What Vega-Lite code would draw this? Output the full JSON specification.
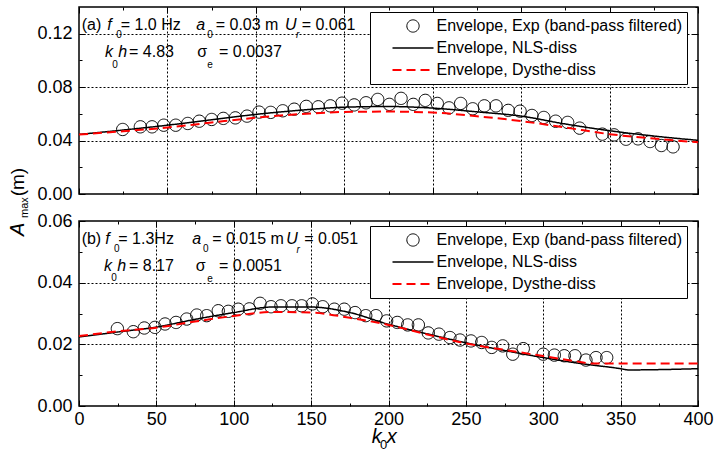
{
  "$schema": "https://vega.github.io/schema/vega-lite/v6.json",
  "padding": {"left": 7, "top": 5, "right": 5, "bottom": 5},
  "bounds": "flush",
  "spacing": 27,
  "config": {
    "view": {"stroke": "black", "strokeWidth": 1.5},
    "axis": {"domain": false, "tickColor": "black", "tickWidth": 1, "labelFont": "Liberation Sans", "labelFontSize": 18, "labelColor": "black", "labelFlush": false, "labelOverlap": false, "gridColor": "black", "gridDash": [2, 2], "gridWidth": 1},
    "text": {"font": "Liberation Sans", "fontSize": 16, "align": "left", "baseline": "alphabetic", "color": "black"},
    "legend": {"orient": "none", "legendX": 291, "legendY": 5, "padding": 5, "strokeColor": "black", "fillColor": "white", "labelFont": "Liberation Sans", "labelFontSize": 16, "labelColor": "black", "labelLimit": 0, "symbolSize": 1681, "symbolOffset": 16.5, "labelOffset": 2, "clipHeight": 18, "rowPadding": 4}
  },
  "datasets": {
    "a_exp": [
      {"series": "Exp", "x": 24.7, "y": 0.0483}, {"series": "Exp", "x": 34.7, "y": 0.0503}, {"series": "Exp", "x": 41.3, "y": 0.0503}, {"series": "Exp", "x": 47.9, "y": 0.0515}, {"series": "Exp", "x": 54.7, "y": 0.0515}, {"series": "Exp", "x": 61.5, "y": 0.0528}, {"series": "Exp", "x": 68.0, "y": 0.0545}, {"series": "Exp", "x": 75.0, "y": 0.0558}, {"series": "Exp", "x": 81.6, "y": 0.0566}, {"series": "Exp", "x": 88.4, "y": 0.0570}, {"series": "Exp", "x": 95.0, "y": 0.0583}, {"series": "Exp", "x": 101.8, "y": 0.0613}, {"series": "Exp", "x": 108.4, "y": 0.0611}, {"series": "Exp", "x": 115.2, "y": 0.0623}, {"series": "Exp", "x": 121.7, "y": 0.0635}, {"series": "Exp", "x": 128.5, "y": 0.0656}, {"series": "Exp", "x": 135.3, "y": 0.0653}, {"series": "Exp", "x": 142.1, "y": 0.0660}, {"series": "Exp", "x": 148.7, "y": 0.0680}, {"series": "Exp", "x": 155.6, "y": 0.0667}, {"series": "Exp", "x": 162.3, "y": 0.0683}, {"series": "Exp", "x": 168.9, "y": 0.0708}, {"series": "Exp", "x": 175.5, "y": 0.0671}, {"series": "Exp", "x": 182.1, "y": 0.0716}, {"series": "Exp", "x": 189.0, "y": 0.0671}, {"series": "Exp", "x": 195.8, "y": 0.0701}, {"series": "Exp", "x": 202.6, "y": 0.0678}, {"series": "Exp", "x": 209.2, "y": 0.0645}, {"series": "Exp", "x": 215.8, "y": 0.0678}, {"series": "Exp", "x": 222.6, "y": 0.0638}, {"series": "Exp", "x": 229.2, "y": 0.0660}, {"series": "Exp", "x": 235.8, "y": 0.0660}, {"series": "Exp", "x": 242.7, "y": 0.0626}, {"series": "Exp", "x": 249.4, "y": 0.0620}, {"series": "Exp", "x": 256.1, "y": 0.0588}, {"series": "Exp", "x": 262.8, "y": 0.0573}, {"series": "Exp", "x": 269.5, "y": 0.0545}, {"series": "Exp", "x": 276.3, "y": 0.0536}, {"series": "Exp", "x": 283.1, "y": 0.0493}, {"series": "Exp", "x": 295.9, "y": 0.0448}, {"series": "Exp", "x": 302.5, "y": 0.0443}, {"series": "Exp", "x": 309.3, "y": 0.0410}, {"series": "Exp", "x": 316.1, "y": 0.0413}, {"series": "Exp", "x": 322.9, "y": 0.0393}, {"series": "Exp", "x": 329.3, "y": 0.0363}, {"series": "Exp", "x": 335.9, "y": 0.0353}
    ],
    "a_lines": [
      {"series": "NLS", "x": 0, "y": 0.0446}, {"series": "NLS", "x": 25, "y": 0.0479}, {"series": "NLS", "x": 50, "y": 0.0515}, {"series": "NLS", "x": 75, "y": 0.0556}, {"series": "NLS", "x": 100, "y": 0.0596}, {"series": "NLS", "x": 125, "y": 0.0627}, {"series": "NLS", "x": 150, "y": 0.0650}, {"series": "NLS", "x": 175, "y": 0.0655}, {"series": "NLS", "x": 200, "y": 0.0643}, {"series": "NLS", "x": 225, "y": 0.0615}, {"series": "NLS", "x": 250, "y": 0.0583}, {"series": "NLS", "x": 275, "y": 0.0524}, {"series": "NLS", "x": 300, "y": 0.0474}, {"series": "NLS", "x": 325, "y": 0.0434}, {"series": "NLS", "x": 350, "y": 0.0402},
      {"series": "Dysthe", "x": 0, "y": 0.0445}, {"series": "Dysthe", "x": 25, "y": 0.0470}, {"series": "Dysthe", "x": 50, "y": 0.0498}, {"series": "Dysthe", "x": 75, "y": 0.0535}, {"series": "Dysthe", "x": 100, "y": 0.0571}, {"series": "Dysthe", "x": 125, "y": 0.0598}, {"series": "Dysthe", "x": 150, "y": 0.0614}, {"series": "Dysthe", "x": 175, "y": 0.0617}, {"series": "Dysthe", "x": 200, "y": 0.0610}, {"series": "Dysthe", "x": 225, "y": 0.0582}, {"series": "Dysthe", "x": 250, "y": 0.0546}, {"series": "Dysthe", "x": 275, "y": 0.0498}, {"series": "Dysthe", "x": 300, "y": 0.0448}, {"series": "Dysthe", "x": 325, "y": 0.0415}, {"series": "Dysthe", "x": 350, "y": 0.0387}
    ],
    "b_exp": [
      {"series": "Exp", "x": 24.8, "y": 0.0251}, {"series": "Exp", "x": 35.1, "y": 0.0241}, {"series": "Exp", "x": 42.2, "y": 0.0253}, {"series": "Exp", "x": 49.1, "y": 0.0255}, {"series": "Exp", "x": 55.6, "y": 0.0266}, {"series": "Exp", "x": 62.7, "y": 0.0271}, {"series": "Exp", "x": 69.6, "y": 0.0282}, {"series": "Exp", "x": 76.1, "y": 0.0295}, {"series": "Exp", "x": 82.5, "y": 0.0293}, {"series": "Exp", "x": 90.0, "y": 0.0309}, {"series": "Exp", "x": 96.5, "y": 0.0307}, {"series": "Exp", "x": 102.9, "y": 0.0314}, {"series": "Exp", "x": 110.1, "y": 0.0315}, {"series": "Exp", "x": 117.0, "y": 0.0333}, {"series": "Exp", "x": 124.1, "y": 0.0322}, {"series": "Exp", "x": 130.5, "y": 0.0325}, {"series": "Exp", "x": 137.6, "y": 0.0325}, {"series": "Exp", "x": 143.9, "y": 0.0325}, {"series": "Exp", "x": 150.8, "y": 0.0331}, {"series": "Exp", "x": 157.5, "y": 0.0322}, {"series": "Exp", "x": 165.0, "y": 0.0314}, {"series": "Exp", "x": 171.4, "y": 0.0314}, {"series": "Exp", "x": 178.4, "y": 0.0303}, {"series": "Exp", "x": 185.3, "y": 0.0293}, {"series": "Exp", "x": 191.9, "y": 0.0293}, {"series": "Exp", "x": 198.8, "y": 0.0276}, {"series": "Exp", "x": 205.7, "y": 0.0271}, {"series": "Exp", "x": 212.4, "y": 0.0263}, {"series": "Exp", "x": 219.3, "y": 0.0263}, {"series": "Exp", "x": 225.7, "y": 0.0237}, {"series": "Exp", "x": 232.6, "y": 0.0233}, {"series": "Exp", "x": 239.7, "y": 0.0222}, {"series": "Exp", "x": 246.2, "y": 0.0214}, {"series": "Exp", "x": 253.3, "y": 0.0211}, {"series": "Exp", "x": 260.2, "y": 0.0206}, {"series": "Exp", "x": 266.7, "y": 0.0190}, {"series": "Exp", "x": 273.8, "y": 0.0195}, {"series": "Exp", "x": 280.3, "y": 0.0168}, {"series": "Exp", "x": 287.1, "y": 0.0186}, {"series": "Exp", "x": 300.0, "y": 0.0168}, {"series": "Exp", "x": 307.2, "y": 0.0165}, {"series": "Exp", "x": 313.6, "y": 0.0163}, {"series": "Exp", "x": 320.5, "y": 0.0163}, {"series": "Exp", "x": 327.6, "y": 0.0149}, {"series": "Exp", "x": 334.1, "y": 0.0157}, {"series": "Exp", "x": 341.0, "y": 0.0157}
    ],
    "b_lines": [
      {"series": "NLS", "x": 0, "y": 0.0224}, {"series": "NLS", "x": 25, "y": 0.0240}, {"series": "NLS", "x": 50, "y": 0.0256}, {"series": "NLS", "x": 75, "y": 0.0281}, {"series": "NLS", "x": 100, "y": 0.0303}, {"series": "NLS", "x": 125, "y": 0.0321}, {"series": "NLS", "x": 150, "y": 0.0321}, {"series": "NLS", "x": 175, "y": 0.0303}, {"series": "NLS", "x": 200, "y": 0.0265}, {"series": "NLS", "x": 225, "y": 0.0234}, {"series": "NLS", "x": 250, "y": 0.0205}, {"series": "NLS", "x": 275, "y": 0.0180}, {"series": "NLS", "x": 300, "y": 0.0157}, {"series": "NLS", "x": 325, "y": 0.0137}, {"series": "NLS", "x": 350, "y": 0.0121}, {"series": "NLS", "x": 355, "y": 0.0117}, {"series": "NLS", "x": 400, "y": 0.0121},
      {"series": "Dysthe", "x": 0, "y": 0.0227}, {"series": "Dysthe", "x": 25, "y": 0.0242}, {"series": "Dysthe", "x": 50, "y": 0.0254}, {"series": "Dysthe", "x": 75, "y": 0.0274}, {"series": "Dysthe", "x": 100, "y": 0.0292}, {"series": "Dysthe", "x": 125, "y": 0.0305}, {"series": "Dysthe", "x": 150, "y": 0.0303}, {"series": "Dysthe", "x": 175, "y": 0.0286}, {"series": "Dysthe", "x": 200, "y": 0.0263}, {"series": "Dysthe", "x": 225, "y": 0.0232}, {"series": "Dysthe", "x": 250, "y": 0.0203}, {"series": "Dysthe", "x": 275, "y": 0.0182}, {"series": "Dysthe", "x": 300, "y": 0.0162}, {"series": "Dysthe", "x": 320, "y": 0.0146}, {"series": "Dysthe", "x": 332, "y": 0.0138}, {"series": "Dysthe", "x": 400, "y": 0.0138}
    ]
  },
  "resolve": {
    "scale": {"x": "independent", "y": "independent", "color": "independent", "shape": "independent", "strokeDash": "independent", "strokeWidth": "independent"},
    "legend": {"color": "independent", "shape": "independent", "strokeDash": "independent", "strokeWidth": "independent"}
  },
  "vconcat": [
    {
      "width": 619,
      "height": 187,
      "resolve": {"axis": {"x": "independent", "y": "independent"}},
      "layer": [
        {
          "data": {"name": "a_exp"},
          "mark": {"type": "point", "filled": false, "size": 1681, "opacity": 1},
          "encoding": {
            "x": {"field": "x", "type": "quantitative", "scale": {"domain": [0, 350], "nice": false, "zero": false},
              "axis": {"orient": "bottom", "title": null, "values": [0, 25, 50, 75, 100, 125, 150, 175, 200, 225, 250, 275, 300, 325, 350], "labels": false, "grid": true,
                "gridOpacity": {"condition": {"test": "datum.value % 50 === 0 && datum.value > 0 && datum.value < 350", "value": 1}, "value": 0},
                "tickSize": {"condition": {"test": "datum.value % 50 === 0", "value": -6}, "value": -3}}},
            "y": {"field": "y", "type": "quantitative", "scale": {"domain": [0, 0.14], "nice": false},
              "axis": {"orient": "left", "title": null, "values": [0, 0.02, 0.04, 0.06, 0.08, 0.1, 0.12], "labelExpr": "round(datum.value*100) % 4 === 0 ? format(datum.value, '.2f') : ''", "labelPadding": 13, "grid": true,
                "gridOpacity": {"condition": {"test": "round(datum.value*100) % 4 === 0 && datum.value > 0.001 && datum.value < 0.139", "value": 1}, "value": 0},
                "tickSize": {"condition": {"test": "round(datum.value*100) % 4 === 0", "value": -6}, "value": -3}}},
            "color": {"field": "series", "type": "nominal", "title": null, "scale": {"domain": ["Exp", "NLS", "Dysthe"], "range": ["black", "black", "#ff0000"]}, "legend": {"labelExpr": "datum.value === 'Exp' ? 'Envelope, Exp (band-pass filtered)' : datum.value === 'NLS' ? 'Envelope, NLS-diss' : 'Envelope, Dysthe-diss'"}},
            "shape": {"field": "series", "type": "nominal", "title": null, "scale": {"domain": ["Exp", "NLS", "Dysthe"], "range": ["M-0.3,0A0.3,0.3,0,1,0,0.3,0A0.3,0.3,0,1,0,-0.3,0Z", "stroke", "stroke"]}},
            "strokeDash": {"field": "series", "type": "nominal", "title": null, "scale": {"domain": ["Exp", "NLS", "Dysthe"], "range": [[1, 0], [1, 0], [9, 5]]}},
            "strokeWidth": {"field": "series", "type": "nominal", "title": null, "scale": {"domain": ["Exp", "NLS", "Dysthe"], "range": [1, 2, 3]}}
          }
        },
        {
          "data": {"name": "a_lines"},
          "mark": {"type": "line", "interpolate": "monotone"},
          "encoding": {
            "x": {"field": "x", "type": "quantitative",
              "axis": {"orient": "top", "title": null, "values": [0, 25, 50, 75, 100, 125, 150, 175, 200, 225, 250, 275, 300, 325, 350], "labels": false, "grid": false,
                "tickSize": {"condition": {"test": "datum.value % 50 === 0", "value": -6}, "value": -3}}},
            "y": {"field": "y", "type": "quantitative",
              "axis": {"orient": "right", "title": null, "values": [0, 0.02, 0.04, 0.06, 0.08, 0.1, 0.12, 0.14], "labels": false, "grid": false,
                "tickSize": {"condition": {"test": "round(datum.value*100) % 4 === 0", "value": -6}, "value": -3}}},
            "color": {"field": "series", "type": "nominal", "title": null},
            "strokeDash": {"field": "series", "type": "nominal", "title": null},
            "strokeWidth": {"field": "series", "type": "nominal", "title": null}
          }
        },
        {"data": {"values": [{"t": "(a)"}]}, "mark": {"type": "text"}, "encoding": {"text": {"field": "t"}, "x": {"datum": 1.5, "type": "quantitative", "axis": null}, "y": {"datum": 0.123, "type": "quantitative", "axis": null}}},
        {"data": {"values": [{"t": "f"}]}, "mark": {"type": "text", "fontStyle": "italic"}, "encoding": {"text": {"field": "t"}, "x": {"datum": 16, "type": "quantitative", "axis": null}, "y": {"datum": 0.123, "type": "quantitative", "axis": null}}},
        {"data": {"values": [{"t": "0"}]}, "mark": {"type": "text", "fontSize": 10}, "encoding": {"text": {"field": "t"}, "x": {"datum": 21.1, "type": "quantitative", "axis": null}, "y": {"datum": 0.117, "type": "quantitative", "axis": null}}},
        {"data": {"values": [{"t": "= 1.0 Hz"}]}, "mark": {"type": "text"}, "encoding": {"text": {"field": "t"}, "x": {"datum": 23.6, "type": "quantitative", "axis": null}, "y": {"datum": 0.123, "type": "quantitative", "axis": null}}},
        {"data": {"values": [{"t": "a"}]}, "mark": {"type": "text", "fontStyle": "italic"}, "encoding": {"text": {"field": "t"}, "x": {"datum": 66.3, "type": "quantitative", "axis": null}, "y": {"datum": 0.123, "type": "quantitative", "axis": null}}},
        {"data": {"values": [{"t": "0"}]}, "mark": {"type": "text", "fontSize": 10}, "encoding": {"text": {"field": "t"}, "x": {"datum": 72.5, "type": "quantitative", "axis": null}, "y": {"datum": 0.117, "type": "quantitative", "axis": null}}},
        {"data": {"values": [{"t": "= 0.03 m"}]}, "mark": {"type": "text"}, "encoding": {"text": {"field": "t"}, "x": {"datum": 77.3, "type": "quantitative", "axis": null}, "y": {"datum": 0.123, "type": "quantitative", "axis": null}}},
        {"data": {"values": [{"t": "U"}]}, "mark": {"type": "text", "fontStyle": "italic"}, "encoding": {"text": {"field": "t"}, "x": {"datum": 116.5, "type": "quantitative", "axis": null}, "y": {"datum": 0.123, "type": "quantitative", "axis": null}}},
        {"data": {"values": [{"t": "r"}]}, "mark": {"type": "text", "fontSize": 10, "fontStyle": "italic"}, "encoding": {"text": {"field": "t"}, "x": {"datum": 122.7, "type": "quantitative", "axis": null}, "y": {"datum": 0.117, "type": "quantitative", "axis": null}}},
        {"data": {"values": [{"t": "= 0.061"}]}, "mark": {"type": "text"}, "encoding": {"text": {"field": "t"}, "x": {"datum": 125.9, "type": "quantitative", "axis": null}, "y": {"datum": 0.123, "type": "quantitative", "axis": null}}},
        {"data": {"values": [{"t": "k"}]}, "mark": {"type": "text", "fontStyle": "italic"}, "encoding": {"text": {"field": "t"}, "x": {"datum": 14.7, "type": "quantitative", "axis": null}, "y": {"datum": 0.1026, "type": "quantitative", "axis": null}}},
        {"data": {"values": [{"t": "0"}]}, "mark": {"type": "text", "fontSize": 10}, "encoding": {"text": {"field": "t"}, "x": {"datum": 18.8, "type": "quantitative", "axis": null}, "y": {"datum": 0.0943, "type": "quantitative", "axis": null}}},
        {"data": {"values": [{"t": "h"}]}, "mark": {"type": "text", "fontStyle": "italic"}, "encoding": {"text": {"field": "t"}, "x": {"datum": 22.2, "type": "quantitative", "axis": null}, "y": {"datum": 0.1026, "type": "quantitative", "axis": null}}},
        {"data": {"values": [{"t": "= 4.83"}]}, "mark": {"type": "text"}, "encoding": {"text": {"field": "t"}, "x": {"datum": 28.3, "type": "quantitative", "axis": null}, "y": {"datum": 0.1026, "type": "quantitative", "axis": null}}},
        {"data": {"values": [{"t": "σ"}]}, "mark": {"type": "text"}, "encoding": {"text": {"field": "t"}, "x": {"datum": 66.9, "type": "quantitative", "axis": null}, "y": {"datum": 0.1026, "type": "quantitative", "axis": null}}},
        {"data": {"values": [{"t": "e"}]}, "mark": {"type": "text", "fontSize": 10}, "encoding": {"text": {"field": "t"}, "x": {"datum": 72.5, "type": "quantitative", "axis": null}, "y": {"datum": 0.0943, "type": "quantitative", "axis": null}}},
        {"data": {"values": [{"t": "= 0.0037"}]}, "mark": {"type": "text"}, "encoding": {"text": {"field": "t"}, "x": {"datum": 79.2, "type": "quantitative", "axis": null}, "y": {"datum": 0.1026, "type": "quantitative", "axis": null}}}
      ]
    },
    {
      "width": 619,
      "height": 185,
      "resolve": {"axis": {"x": "independent", "y": "independent"}},
      "layer": [
        {
          "data": {"name": "b_exp"},
          "mark": {"type": "point", "filled": false, "size": 1681, "opacity": 1},
          "encoding": {
            "x": {"field": "x", "type": "quantitative", "scale": {"domain": [0, 400], "nice": false, "zero": false},
              "axis": {"orient": "bottom", "title": null, "values": [0, 25, 50, 75, 100, 125, 150, 175, 200, 225, 250, 275, 300, 325, 350, 375, 400], "labelExpr": "datum.value % 50 === 0 ? datum.label : ''", "labelPadding": 10, "grid": true,
                "gridOpacity": {"condition": {"test": "datum.value % 50 === 0 && datum.value > 0 && datum.value < 400", "value": 1}, "value": 0},
                "tickSize": {"condition": {"test": "datum.value % 50 === 0", "value": -6}, "value": -3}}},
            "y": {"field": "y", "type": "quantitative", "scale": {"domain": [0, 0.06], "nice": false},
              "axis": {"orient": "left", "title": null, "values": [0, 0.01, 0.02, 0.03, 0.04, 0.05, 0.06], "labelExpr": "round(datum.value*100) % 2 === 0 ? format(datum.value, '.2f') : ''", "labelPadding": 13, "grid": true,
                "gridOpacity": {"condition": {"test": "round(datum.value*100) % 2 === 0 && datum.value > 0.001 && datum.value < 0.059", "value": 1}, "value": 0},
                "tickSize": {"condition": {"test": "round(datum.value*100) % 2 === 0", "value": -6}, "value": -3}}},
            "color": {"field": "series", "type": "nominal", "title": null, "scale": {"domain": ["Exp", "NLS", "Dysthe"], "range": ["black", "black", "#ff0000"]}, "legend": {"labelExpr": "datum.value === 'Exp' ? 'Envelope, Exp (band-pass filtered)' : datum.value === 'NLS' ? 'Envelope, NLS-diss' : 'Envelope, Dysthe-diss'"}},
            "shape": {"field": "series", "type": "nominal", "title": null, "scale": {"domain": ["Exp", "NLS", "Dysthe"], "range": ["M-0.3,0A0.3,0.3,0,1,0,0.3,0A0.3,0.3,0,1,0,-0.3,0Z", "stroke", "stroke"]}},
            "strokeDash": {"field": "series", "type": "nominal", "title": null, "scale": {"domain": ["Exp", "NLS", "Dysthe"], "range": [[1, 0], [1, 0], [9, 5]]}},
            "strokeWidth": {"field": "series", "type": "nominal", "title": null, "scale": {"domain": ["Exp", "NLS", "Dysthe"], "range": [1, 2, 3]}}
          }
        },
        {
          "data": {"name": "b_lines"},
          "mark": {"type": "line", "interpolate": "monotone"},
          "encoding": {
            "x": {"field": "x", "type": "quantitative",
              "axis": {"orient": "top", "title": null, "values": [0, 25, 50, 75, 100, 125, 150, 175, 200, 225, 250, 275, 300, 325, 350, 375, 400], "labels": false, "grid": false,
                "tickSize": {"condition": {"test": "datum.value % 50 === 0", "value": -6}, "value": -3}}},
            "y": {"field": "y", "type": "quantitative",
              "axis": {"orient": "right", "title": null, "values": [0, 0.01, 0.02, 0.03, 0.04, 0.05, 0.06], "labels": false, "grid": false,
                "tickSize": {"condition": {"test": "round(datum.value*100) % 2 === 0", "value": -6}, "value": -3}}},
            "color": {"field": "series", "type": "nominal", "title": null},
            "strokeDash": {"field": "series", "type": "nominal", "title": null},
            "strokeWidth": {"field": "series", "type": "nominal", "title": null}
          }
        },
        {"data": {"values": [{"t": "(b)"}]}, "mark": {"type": "text"}, "encoding": {"text": {"field": "t"}, "x": {"datum": 1.7, "type": "quantitative", "axis": null}, "y": {"datum": 0.05264, "type": "quantitative", "axis": null}}},
        {"data": {"values": [{"t": "f"}]}, "mark": {"type": "text", "fontStyle": "italic"}, "encoding": {"text": {"field": "t"}, "x": {"datum": 17.0, "type": "quantitative", "axis": null}, "y": {"datum": 0.05264, "type": "quantitative", "axis": null}}},
        {"data": {"values": [{"t": "0"}]}, "mark": {"type": "text", "fontSize": 10}, "encoding": {"text": {"field": "t"}, "x": {"datum": 22.6, "type": "quantitative", "axis": null}, "y": {"datum": 0.05004, "type": "quantitative", "axis": null}}},
        {"data": {"values": [{"t": "= 1.3Hz"}]}, "mark": {"type": "text"}, "encoding": {"text": {"field": "t"}, "x": {"datum": 25.4, "type": "quantitative", "axis": null}, "y": {"datum": 0.05264, "type": "quantitative", "axis": null}}},
        {"data": {"values": [{"t": "a"}]}, "mark": {"type": "text", "fontStyle": "italic"}, "encoding": {"text": {"field": "t"}, "x": {"datum": 73.2, "type": "quantitative", "axis": null}, "y": {"datum": 0.05264, "type": "quantitative", "axis": null}}},
        {"data": {"values": [{"t": "0"}]}, "mark": {"type": "text", "fontSize": 10}, "encoding": {"text": {"field": "t"}, "x": {"datum": 80.1, "type": "quantitative", "axis": null}, "y": {"datum": 0.05004, "type": "quantitative", "axis": null}}},
        {"data": {"values": [{"t": "= 0.015 m"}]}, "mark": {"type": "text"}, "encoding": {"text": {"field": "t"}, "x": {"datum": 86.1, "type": "quantitative", "axis": null}, "y": {"datum": 0.05264, "type": "quantitative", "axis": null}}},
        {"data": {"values": [{"t": "U"}]}, "mark": {"type": "text", "fontStyle": "italic"}, "encoding": {"text": {"field": "t"}, "x": {"datum": 134.0, "type": "quantitative", "axis": null}, "y": {"datum": 0.05264, "type": "quantitative", "axis": null}}},
        {"data": {"values": [{"t": "r"}]}, "mark": {"type": "text", "fontSize": 10, "fontStyle": "italic"}, "encoding": {"text": {"field": "t"}, "x": {"datum": 140.6, "type": "quantitative", "axis": null}, "y": {"datum": 0.04972, "type": "quantitative", "axis": null}}},
        {"data": {"values": [{"t": "= 0.051"}]}, "mark": {"type": "text"}, "encoding": {"text": {"field": "t"}, "x": {"datum": 145.6, "type": "quantitative", "axis": null}, "y": {"datum": 0.05264, "type": "quantitative", "axis": null}}},
        {"data": {"values": [{"t": "k"}]}, "mark": {"type": "text", "fontStyle": "italic"}, "encoding": {"text": {"field": "t"}, "x": {"datum": 16.2, "type": "quantitative", "axis": null}, "y": {"datum": 0.04378, "type": "quantitative", "axis": null}}},
        {"data": {"values": [{"t": "0"}]}, "mark": {"type": "text", "fontSize": 10}, "encoding": {"text": {"field": "t"}, "x": {"datum": 20.9, "type": "quantitative", "axis": null}, "y": {"datum": 0.04054, "type": "quantitative", "axis": null}}},
        {"data": {"values": [{"t": "h"}]}, "mark": {"type": "text", "fontStyle": "italic"}, "encoding": {"text": {"field": "t"}, "x": {"datum": 24.7, "type": "quantitative", "axis": null}, "y": {"datum": 0.04378, "type": "quantitative", "axis": null}}},
        {"data": {"values": [{"t": "= 8.17"}]}, "mark": {"type": "text"}, "encoding": {"text": {"field": "t"}, "x": {"datum": 32.3, "type": "quantitative", "axis": null}, "y": {"datum": 0.04378, "type": "quantitative", "axis": null}}},
        {"data": {"values": [{"t": "σ"}]}, "mark": {"type": "text"}, "encoding": {"text": {"field": "t"}, "x": {"datum": 75.4, "type": "quantitative", "axis": null}, "y": {"datum": 0.04378, "type": "quantitative", "axis": null}}},
        {"data": {"values": [{"t": "e"}]}, "mark": {"type": "text", "fontSize": 10}, "encoding": {"text": {"field": "t"}, "x": {"datum": 82.9, "type": "quantitative", "axis": null}, "y": {"datum": 0.04022, "type": "quantitative", "axis": null}}},
        {"data": {"values": [{"t": "= 0.0051"}]}, "mark": {"type": "text"}, "encoding": {"text": {"field": "t"}, "x": {"datum": 90.5, "type": "quantitative", "axis": null}, "y": {"datum": 0.04378, "type": "quantitative", "axis": null}}},
        {"data": {"values": [{"t": "A"}]}, "mark": {"type": "text", "fontStyle": "italic", "fontSize": 20, "angle": 270}, "encoding": {"text": {"field": "t"}, "x": {"datum": -35.5, "type": "quantitative", "axis": null}, "y": {"datum": 0.0551, "type": "quantitative", "axis": null}}},
        {"data": {"values": [{"t": "max"}]}, "mark": {"type": "text", "fontSize": 11, "angle": 270}, "encoding": {"text": {"field": "t"}, "x": {"datum": -33.0, "type": "quantitative", "axis": null}, "y": {"datum": 0.0610, "type": "quantitative", "axis": null}}},
        {"data": {"values": [{"t": "(m)"}]}, "mark": {"type": "text", "fontSize": 19, "angle": 270}, "encoding": {"text": {"field": "t"}, "x": {"datum": -35.5, "type": "quantitative", "axis": null}, "y": {"datum": 0.0680, "type": "quantitative", "axis": null}}},
        {"data": {"values": [{"t": "k"}]}, "mark": {"type": "text", "fontStyle": "italic", "fontSize": 20}, "encoding": {"text": {"field": "t"}, "x": {"datum": 189.1, "type": "quantitative", "axis": null}, "y": {"datum": -0.0121, "type": "quantitative", "axis": null}}},
        {"data": {"values": [{"t": "0"}]}, "mark": {"type": "text", "fontSize": 13}, "encoding": {"text": {"field": "t"}, "x": {"datum": 194.5, "type": "quantitative", "axis": null}, "y": {"datum": -0.0140, "type": "quantitative", "axis": null}}},
        {"data": {"values": [{"t": "x"}]}, "mark": {"type": "text", "fontStyle": "italic", "fontSize": 20}, "encoding": {"text": {"field": "t"}, "x": {"datum": 198.8, "type": "quantitative", "axis": null}, "y": {"datum": -0.0121, "type": "quantitative", "axis": null}}}
      ]
    }
  ]
}
